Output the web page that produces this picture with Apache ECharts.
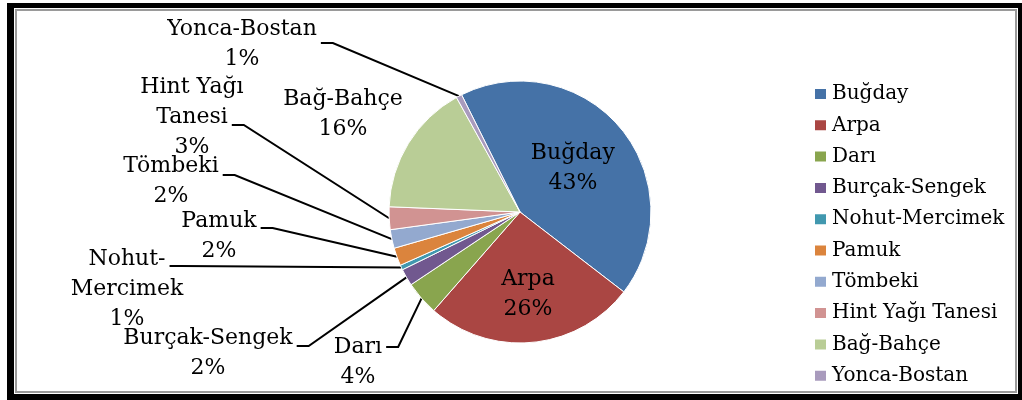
<!DOCTYPE html>
<html><head><meta charset="utf-8">
<script src="https://cdn.jsdelivr.net/npm/echarts@6/dist/echarts.min.js"></script>
<style>
html,body{margin:0;padding:0;background:#fff;}
#outer{position:absolute;left:7px;top:3px;width:1015px;height:397px;background:#000;}
#inner{position:absolute;left:14px;top:8px;width:1004px;height:386px;background:#fff;}
#grey{position:absolute;left:15px;top:9px;width:998px;height:380px;border:2px solid #9a9a9a;}
#chart{position:absolute;left:0;top:0;width:1022px;height:400px;}
</style></head><body>
<div id="outer"></div><div id="inner"></div><div id="grey"></div>
<div id="chart"></div>
<script>
// ---- data ----
const categories = ['Buğday','Arpa','Darı','Burçak-Sengek','Nohut-Mercimek','Pamuk','Tömbeki','Hint Yağı Tanesi','Bağ-Bahçe','Yonca-Bostan'];
const values = [42.8, 26.0, 4.2, 2.1, 0.6, 2.2, 2.3, 2.8, 16.3, 0.7];
const labelText = ['Buğday','Arpa','Darı','Burçak-Sengek','Nohut-\nMercimek','Pamuk','Tömbeki','Hint Yağı\nTanesi','Bağ-Bahçe','Yonca-Bostan'];

// ---- styles / layout ----
const colors = ['#4572A7','#AA4643','#89A54E','#71588F','#4198AF','#DB843D','#93A9CF','#D19392','#B9CD96','#A99BBD'];
const FONT = 'DejaVu Serif';
const LABEL_SIZE = 22, LH = 30;
// label block centres (px)
const labelPos = {1:[528,294], 2:[358,362], 3:[208,353], 4:[127,289], 5:[219,236], 6:[171,181], 7:[192,117], 8:[343,114], 9:[242,44]};
// leader stub: [text line it attaches to, vertical offset from that line's centre]
const stubDef = {2:[0,0], 3:[0,8], 4:[0,7], 5:[0,7], 6:[0,9], 7:[1,8], 9:[0,14]};
const insideIdx = [0,1];
const noLeaderIdx = [0,1,8];

const ctx = document.createElement('canvas').getContext('2d');
ctx.font = LABEL_SIZE + 'px "' + FONT + '"';
function measure(t){ return ctx.measureText(t).width; }

const chart = echarts.init(document.getElementById('chart'), null, {renderer:'canvas'});
const data = categories.map((n,i)=>{
  const d = {name:n, value:values[i], itemStyle:{color:colors[i]}};
  if (insideIdx.includes(i)) d.label = {position:'inside'};
  if (noLeaderIdx.includes(i)) d.labelLine = {show:false};
  return d;
});

chart.setOption({
  animation:false,
  backgroundColor:'transparent',
  legend:{
    orient:'vertical', left:808, top:79, itemWidth:13, itemHeight:12, itemGap:11.3,
    icon:'rect', selectedMode:false,
    textStyle:{fontFamily:FONT, fontSize:20, color:'#000', lineHeight:20},
    data:categories
  },
  series:[{
    type:'pie', center:[520,212], radius:131, startAngle:116.5, clockwise:true,
    avoidLabelOverlap:false,
    itemStyle:{borderColor:'#fff', borderWidth:1},
    label:{show:true, position:'outside', fontFamily:FONT, fontSize:LABEL_SIZE, lineHeight:LH, color:'#000', align:'center',
      formatter:p=>labelText[p.dataIndex]+'\n'+Math.round(p.percent)+'%'},
    labelLine:{show:true, length:10, length2:10, lineStyle:{color:'#000', width:2}},
    emphasis:{disabled:true},
    labelLayout:function(p){
      const i = p.dataIndex, pos = labelPos[i];
      if(!pos) return {};
      const res = {x:pos[0], y:pos[1], align:'center', verticalAlign:'middle'};
      if(stubDef[i] && p.labelLinePoints){
        const edge = p.labelLinePoints[0];
        const lines = labelText[i].split('\n');
        const n = lines.length + 1;
        const li = stubDef[i][0];
        const lineCentre = pos[1] - n*LH/2 + LH/2 + li*LH;
        const sy = lineCentre + stubDef[i][1];
        const sx = pos[0] + measure(lines[li])/2 + 4;
        res.labelLinePoints = [edge, [sx+12, sy], [sx, sy]];
      }
      return res;
    },
    data:data
  }]
});
</script>
</body></html>
